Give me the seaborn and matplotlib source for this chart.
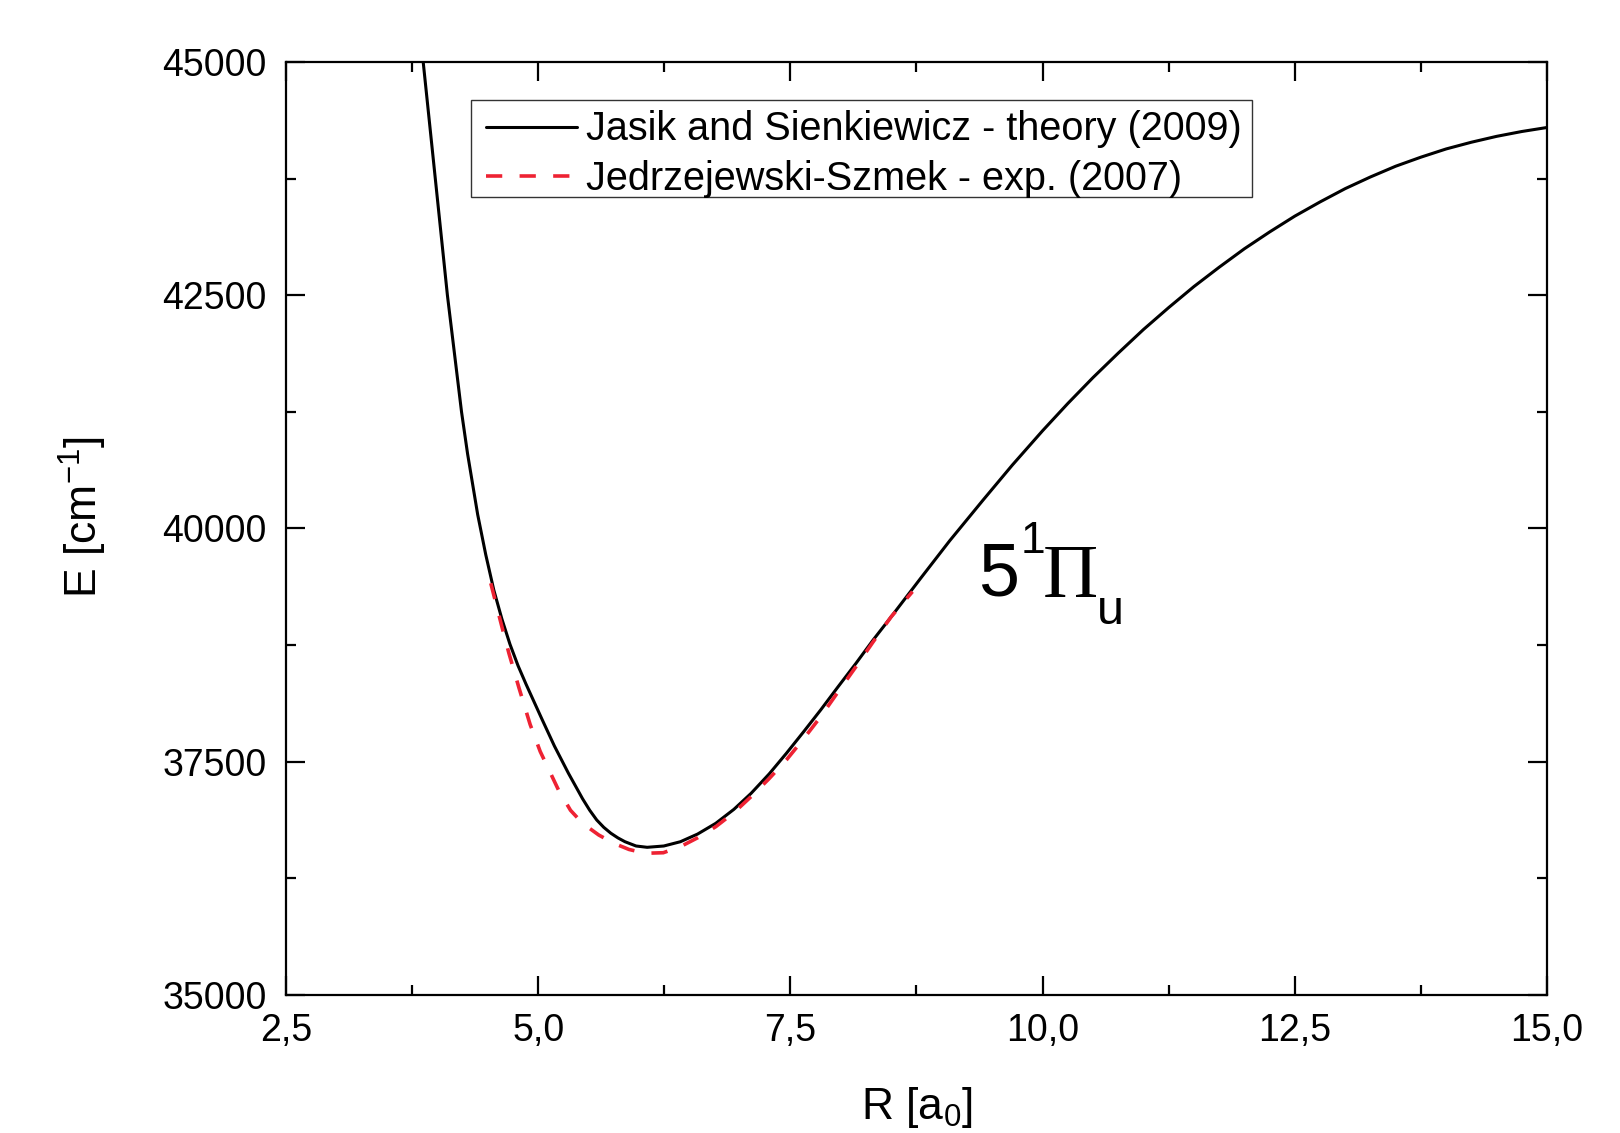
import numpy as np
import pandas as pd
import matplotlib
matplotlib.use("Agg")
import matplotlib.pyplot as plt
from matplotlib.ticker import MultipleLocator, FuncFormatter
from matplotlib.patches import Rectangle
import seaborn as sns

# ---- data ----
theory_R = [3.86, 3.98, 4.10, 4.24, 4.30, 4.40, 4.48, 4.56, 4.64, 4.72, 4.80,
            4.88, 4.96, 5.04, 5.16, 5.30, 5.44, 5.51, 5.58, 5.65, 5.72, 5.79,
            5.86, 5.97, 6.08, 6.245, 6.41, 6.58, 6.76, 6.94, 7.11, 7.29, 7.46,
            7.63, 7.80, 7.97, 8.15, 8.32, 8.50, 8.79, 9.08, 9.41, 9.70, 10.00,
            10.25, 10.50, 10.75, 11.00, 11.25, 11.50, 11.75, 12.00, 12.25, 12.50,
            12.75, 13.00, 13.25, 13.50, 13.75, 14.00, 14.25, 14.50, 14.75, 15.00]
theory_E = [45000, 43750, 42500, 41250, 40800, 40150, 39720, 39340, 39030, 38760, 38530,
            38330, 38140, 37950, 37670, 37376, 37103, 36981, 36876, 36797, 36734, 36684,
            36643, 36597, 36583, 36597, 36643, 36725, 36840, 36990, 37161, 37370, 37590,
            37820, 38055, 38300, 38555, 38805, 39055, 39465, 39870, 40305, 40680, 41048,
            41340, 41618, 41880, 42133, 42368, 42593, 42800, 42998, 43178, 43348,
            43500, 43643, 43768, 43883, 43980, 44068, 44140, 44203, 44255, 44298]

exp_R = [4.53, 4.64, 4.71, 4.81, 4.92, 5.02, 5.20, 5.32, 5.44, 5.60, 5.75, 5.90,
         6.06, 6.24, 6.41, 6.58, 6.76, 6.94, 7.11, 7.29, 7.46, 7.63, 7.80, 7.97,
         8.15, 8.32, 8.50, 8.71]
exp_E = [39413, 38948, 38662, 38290, 37900, 37610, 37200, 36980, 36840, 36715, 36626, 36560,
         36519, 36525, 36590, 36685, 36804, 36955, 37126, 37320, 37519, 37745, 37983, 38245,
         38519, 38785, 39055, 39323]

theory_label = "Jasik and Sienkiewicz - theory (2009)"
exp_label = "Jedrzejewski-Szmek - exp. (2007)"
x_label = r"R [a$_{\mathregular{0}}$]"
y_label = r"E [cm$^{\mathregular{-1}}$]"

df_th = pd.DataFrame({"R": theory_R, "E": theory_E})
df_ex = pd.DataFrame({"R": exp_R, "E": exp_E})

# ---- style ----
sns.set_theme(style="ticks")
plt.rcParams["font.family"] = ["Liberation Sans", "DejaVu Sans"]
plt.rcParams["mathtext.fontset"] = "custom"
plt.rcParams["mathtext.rm"] = "Liberation Sans"
plt.rcParams["mathtext.it"] = "Liberation Sans:italic"
plt.rcParams["mathtext.bf"] = "Liberation Sans:bold"
plt.rcParams["text.color"] = "black"
plt.rcParams["axes.labelcolor"] = "black"
plt.rcParams["xtick.color"] = "black"
plt.rcParams["ytick.color"] = "black"

W, H = 1620, 1133
fig = plt.figure(figsize=(W / 100, H / 100), dpi=100)
L, R_, T, B = 286, 1547, 62, 995
ax = fig.add_axes([L / W, 1 - B / H, (R_ - L) / W, (B - T) / H])

sns.lineplot(data=df_th, x="R", y="E", ax=ax, color="black", lw=2.2,
             sort=False, estimator=None, label=theory_label)
sns.lineplot(data=df_ex, x="R", y="E", ax=ax, color="#EE2233", lw=2.6,
             sort=False, estimator=None, label=exp_label)
ax.lines[1].set_dashes((4.5, 4.8))
for ln in ax.lines:
    ln.set_solid_joinstyle("round")
    ln.set_dash_capstyle("butt")

ax.set_xlim(2.5, 15.0)
ax.set_ylim(35000, 45000)
ax.xaxis.set_major_locator(MultipleLocator(2.5))
ax.xaxis.set_minor_locator(MultipleLocator(1.25))
ax.yaxis.set_major_locator(MultipleLocator(2500))
ax.yaxis.set_minor_locator(MultipleLocator(1250))
ax.xaxis.set_major_formatter(FuncFormatter(lambda v, p: f"{v:.1f}".replace(".", ",")))
ax.yaxis.set_major_formatter(FuncFormatter(lambda v, p: f"{int(round(v))}"))

for s in ax.spines.values():
    s.set_linewidth(1.6)
    s.set_color("black")
ax.tick_params(which="both", direction="in", top=True, right=True,
               width=1.6, color="black", labelsize=27, labelcolor="black")
ax.tick_params(which="major", length=14)
ax.tick_params(which="minor", length=7)
ax.tick_params(axis="y", pad=14)
ax.tick_params(axis="x", pad=13)

ax.set_xlabel(x_label, fontsize=32, labelpad=26)
ax.set_ylabel(y_label, fontsize=32)
ax.yaxis.set_label_coords(-0.140, 0.512)

# legend frame (drawn separately so its size matches the reference)
frame = Rectangle((0.1467, 0.8553), 0.6193, 0.1040, transform=ax.transAxes,
                  facecolor="white", edgecolor="#333333", lw=1.0, zorder=4)
ax.add_patch(frame)
leg = ax.legend(loc="upper left", bbox_to_anchor=(0.1585, 0.9481), borderaxespad=0,
                fontsize=28.5, frameon=False, handlelength=2.3, handletextpad=0.225,
                borderpad=0.0, labelspacing=0.30)
leg.set_zorder(5)

# ---- state annotation ----
def ftext(x, y, s, **kw):
    fig.text(x / W, 1 - y / H, s, va="baseline", ha="left", color="black", **kw)

ftext(978, 596, "5", fontsize=53, family="Liberation Sans")
ftext(1021, 553, "1", fontsize=32, family="Liberation Sans")
ftext(1043, 597, "\u03a0", fontsize=55, family="Liberation Serif")
ftext(1097, 624, "u", fontsize=35, family="Liberation Sans")

fig.savefig("out.png", dpi=100, facecolor="white")
